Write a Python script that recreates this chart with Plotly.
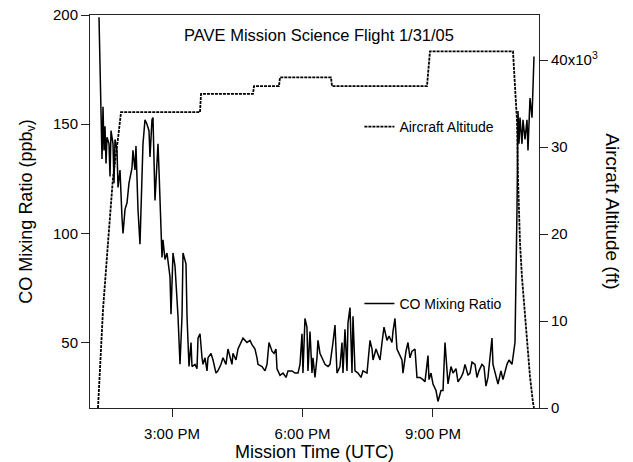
import plotly.graph_objects as go

# Mission time in decimal hours (UTC)
co_time = [13.322, 13.345, 13.368, 13.384, 13.391, 13.414, 13.437, 13.460, 13.483, 13.506,
           13.552, 13.575, 13.598, 13.644, 13.667, 13.690, 13.736, 13.759, 13.805, 13.851,
           13.874, 13.920, 13.966, 14.011, 14.080, 14.103, 14.149, 14.172, 14.218, 14.264,
           14.310, 14.333, 14.379, 14.425, 14.471, 14.494, 14.540, 14.563, 14.609, 14.655,
           14.678, 14.701, 14.747, 14.770, 14.793, 14.839, 14.885, 14.930, 14.954, 14.977,
           15.023, 15.069, 15.138, 15.184, 15.230, 15.253, 15.322, 15.345, 15.391, 15.437,
           15.460, 15.529, 15.575, 15.598, 15.644, 15.690, 15.713, 15.759, 15.805, 15.828,
           15.897, 15.943, 16.011, 16.057, 16.126, 16.172, 16.241, 16.287, 16.333, 16.379,
           16.402, 16.471, 16.517, 16.563, 16.632, 16.724, 16.793, 16.839, 16.908, 16.954,
           16.977, 17.069, 17.138, 17.184, 17.230, 17.299, 17.345, 17.391, 17.414, 17.483,
           17.552, 17.621, 17.667, 17.759, 17.828, 17.897, 17.943, 17.989, 18.011, 18.057,
           18.103, 18.126, 18.172, 18.218, 18.241, 18.287, 18.333, 18.356, 18.402, 18.448,
           18.517, 18.586, 18.632, 18.701, 18.747, 18.793, 18.816, 18.862, 18.908, 18.931,
           18.977, 19.023, 19.046, 19.092, 19.138, 19.161, 19.207, 19.276, 19.345, 19.391,
           19.483, 19.552, 19.598, 19.621, 19.690, 19.736, 19.782, 19.828, 19.874, 19.943,
           19.989, 20.057, 20.080, 20.126, 20.172, 20.218, 20.287, 20.310, 20.379, 20.425,
           20.471, 20.517, 20.586, 20.632, 20.701, 20.770, 20.816, 20.885, 20.908, 20.954,
           21.000, 21.069, 21.115, 21.184, 21.230, 21.276, 21.322, 21.345, 21.414, 21.460,
           21.529, 21.575, 21.644, 21.690, 21.736, 21.805, 21.851, 21.897, 21.966, 22.011,
           22.057, 22.126, 22.172, 22.218, 22.264, 22.356, 22.379, 22.448, 22.494, 22.563,
           22.609, 22.701, 22.747, 22.816, 22.839, 22.885, 22.931, 22.954, 22.977, 23.000,
           23.046, 23.069, 23.115, 23.161, 23.184, 23.230, 23.276, 23.299, 23.322]

co_ppbv = [199, 172, 156, 141, 134, 158, 138, 149, 132, 144,
           141, 126, 147, 141, 123, 143, 138, 121, 129, 107,
           100, 111, 114, 123, 130, 138, 129, 140, 111, 95,
           123, 141, 152, 150, 147, 135, 152, 153, 115, 129,
           141, 129, 98, 89, 97, 88, 91, 85, 80, 63,
           91, 85, 62, 40, 62, 91, 86, 62, 39, 50,
           39, 40, 38, 52, 54, 43, 40, 43, 37, 43,
           45, 42, 36, 37, 40, 43, 40, 47, 43, 40,
           45, 42, 47, 49, 52, 50, 51, 49, 47, 43,
           40, 39, 37, 40, 50, 46, 45, 47, 38, 35,
           36, 34, 37, 37, 36, 36, 40, 54, 36, 61,
           57, 37, 55, 36, 43, 34, 43, 51, 45, 43,
           40, 39, 40, 50, 58, 36, 37, 39, 50, 36,
           56, 37, 59, 66, 36, 62, 37, 36, 34, 37,
           36, 51, 47, 42, 47, 44, 42, 50, 57, 51,
           53, 50, 55, 61, 47, 45, 42, 36, 46, 50,
           43, 46, 47, 34, 34, 33, 32, 44, 33, 36,
           31, 28, 23, 28, 28, 50, 39, 31, 39, 36,
           38, 32, 34, 36, 40, 35, 36, 41, 40, 34,
           37, 40, 39, 30, 34, 52, 40, 34, 31, 37,
           33, 40, 42, 40, 43, 50, 111, 156, 141, 153,
           141, 152, 143, 152, 138, 162, 153, 172, 181]

alt_time = [13.299, 13.414, 13.529, 13.644, 13.759, 13.828, 15.644, 15.667, 16.862, 16.885,
            17.460, 17.483, 18.655, 18.678, 20.862, 20.931, 22.839, 22.931, 22.954, 23.000,
            23.046, 23.161, 23.230, 23.299, 23.322]
alt_ft = [0, 11300, 19000, 26500, 31000, 34000, 34000, 36100, 36100, 37000,
          37000, 38000, 38000, 37000, 37000, 41000, 41000, 33000, 26500, 19000,
          15000, 7500, 3600, 600, 0]

x_tickvals = [15, 18, 21]
x_ticktext = ["3:00 PM", "6:00 PM", "9:00 PM"]
y2_tickvals = [0, 10000, 20000, 30000, 40000]
y2_ticktext = ["0", "10", "20", "30", "40x10<sup>3</sup>"]

FONT = "Arial, Liberation Sans, sans-serif"

fig = go.Figure()
fig.add_trace(go.Scatter(
    x=co_time, y=co_ppbv, mode="lines", name="CO Mixing Ratio", showlegend=True,
    line=dict(color="black", width=1.5), legend="legend2"))
fig.add_trace(go.Scatter(
    x=alt_time, y=alt_ft, mode="lines", name="Aircraft Altitude", yaxis="y2",
    showlegend=True,
    line=dict(color="black", width=1.8, dash="3px,1px"), legend="legend"))

fig.update_layout(
    width=633, height=462,
    margin=dict(l=90, r=94, t=15, b=54, autoexpand=False),
    paper_bgcolor="white", plot_bgcolor="white",
    showlegend=True,
    font=dict(family=FONT, color="black", size=15),
    xaxis=dict(range=[13.115, 23.437], tickvals=x_tickvals, ticktext=x_ticktext,
               showgrid=False, zeroline=False, showline=True, linecolor="#222",
               linewidth=1, mirror=True, ticks="outside", ticklen=8, automargin=False,
               tickcolor="#222", tickfont=dict(size=15), ticklabelstandoff=4),
    yaxis=dict(range=[20, 200], tickvals=[50, 100, 150, 200], showgrid=False,
               zeroline=False, showline=True, linecolor="#222", linewidth=1,
               ticks="outside", ticklen=8, tickcolor="#222", tickfont=dict(size=15),
               automargin=False),
    yaxis2=dict(range=[0, 45172], overlaying="y", side="right", tickvals=y2_tickvals,
                ticktext=y2_ticktext, showgrid=False, zeroline=False, showline=True,
                linecolor="#222", linewidth=1, ticks="outside", ticklen=8,
                tickcolor="#222", tickfont=dict(size=15), automargin=False),
    legend=dict(x=0.6, y=0.715, xanchor="left", yanchor="middle",
                bgcolor="rgba(0,0,0,0)", font=dict(size=14)),
    legend2=dict(x=0.6, y=0.265, xanchor="left", yanchor="middle",
                 bgcolor="rgba(0,0,0,0)", font=dict(size=14)),
    annotations=[
        dict(text="PAVE Mission Science Flight 1/31/05", xref="paper", yref="paper",
             x=0.51, y=0.95, xanchor="center", yanchor="middle", showarrow=False,
             font=dict(size=16.5)),
        dict(text="Mission Time (UTC)", xref="paper", yref="paper",
             x=0.5, y=-0.113, xanchor="center", yanchor="middle", showarrow=False,
             font=dict(size=18)),
        dict(text="CO Mixing Ratio (ppb<sub>v</sub>)", xref="paper", yref="paper",
             x=-0.14, y=0.5, xanchor="center", yanchor="middle", showarrow=False,
             textangle=-90, font=dict(size=18)),
        dict(text="Aircraft Altitude (ft)", xref="paper", yref="paper",
             x=1.163, y=0.5, xanchor="center", yanchor="middle", showarrow=False,
             textangle=90, font=dict(size=19)),
    ],
)

fig.write_html("out.html")
